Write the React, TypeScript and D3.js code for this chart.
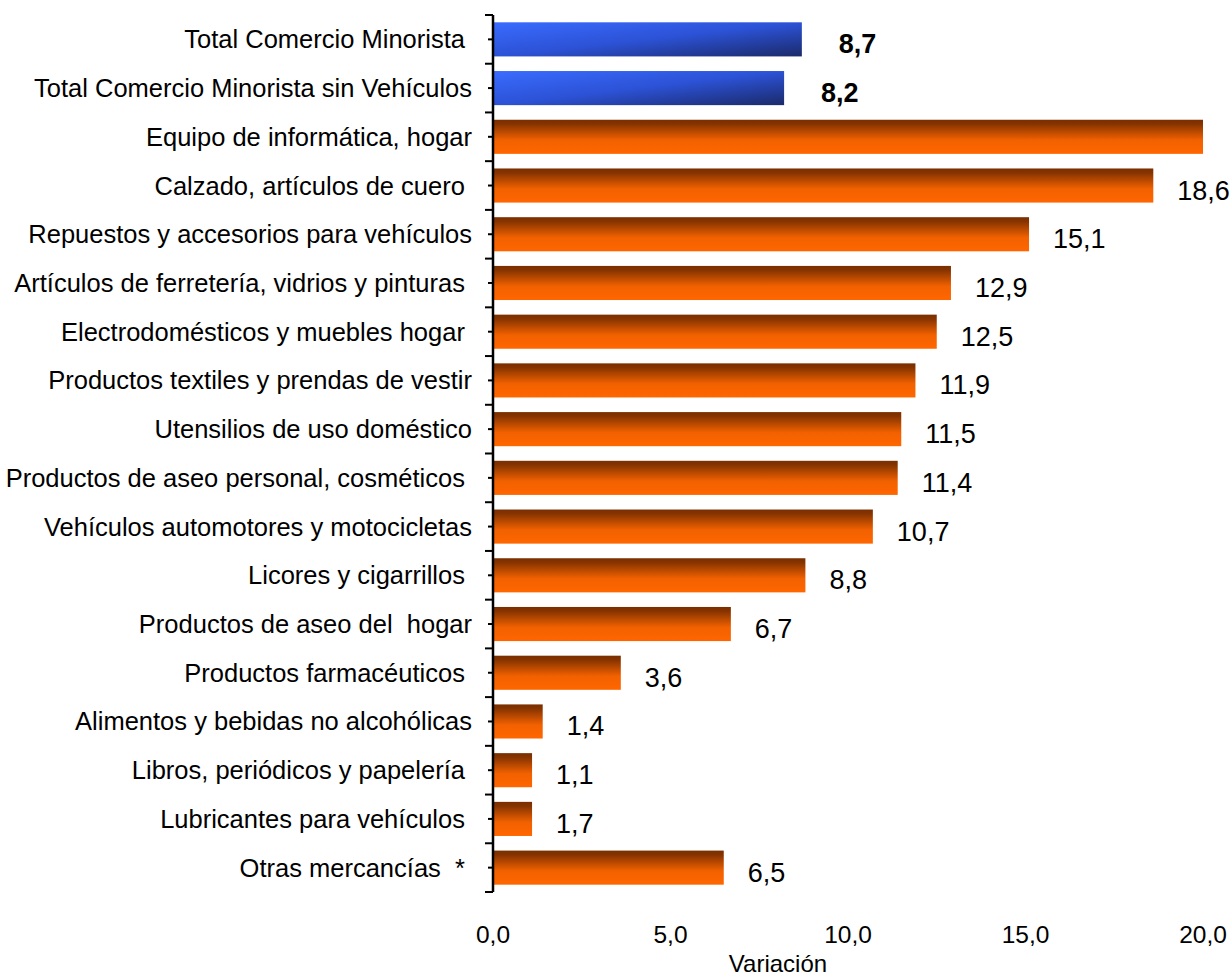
import React from "react";
import * as d3 from "d3";

const categories = [
  "Total Comercio Minorista ",
  "Total Comercio Minorista sin Vehículos",
  "Equipo de informática, hogar",
  "Calzado, artículos de cuero ",
  "Repuestos y accesorios para vehículos",
  "Artículos de ferretería, vidrios y pinturas ",
  "Electrodomésticos y muebles hogar ",
  "Productos textiles y prendas de vestir",
  "Utensilios de uso doméstico",
  "Productos de aseo personal, cosméticos ",
  "Vehículos automotores y motocicletas",
  "Licores y cigarrillos ",
  "Productos de aseo del  hogar",
  "Productos farmacéuticos ",
  "Alimentos y bebidas no alcohólicas",
  "Libros, periódicos y papelería ",
  "Lubricantes para vehículos ",
  "Otras mercancías  * ",
];

const values = [8.7, 8.2, 22.0, 18.6, 15.1, 12.9, 12.5, 11.9, 11.5, 11.4, 10.7, 8.8, 6.7, 3.6, 1.4, 1.1, 1.1, 6.5];
// label of the bar that runs past 20 lies outside the picture in the reference
const valueLabels = ["8,7", "8,2", "", "18,6", "15,1", "12,9", "12,5", "11,9", "11,5", "11,4", "10,7", "8,8", "6,7", "3,6", "1,4", "1,1", "1,7", "6,5"];
const totalFlags = [true, true, false, false, false, false, false, false, false, false, false, false, false, false, false, false, false, false];
const xTicks = [0, 5, 10, 15, 20];
const xTickLabels = ["0,0", "5,0", "10,0", "15,0", "20,0"];
const axisTitle = "Variación";

export default function App() {
  const W = 1232;
  const H = 978;
  const x = d3.scaleLinear().domain([0, 20]).range([493, 1203]);
  const y = d3
    .scaleBand<string>()
    .domain(categories)
    .range([15, 892])
    .paddingInner(0.3)
    .paddingOuter(0.15);
  const step = y.step();
  const font = "'Liberation Sans', Arial, sans-serif";

  return (
    <svg
      width={W}
      height={H}
      style={{ position: "absolute", left: 0, top: 0, background: "#fff" }}
      fontFamily={font}
    >
      <defs>
        <linearGradient id="gOrange" x1="0" y1="0" x2="0" y2="1">
          <stop offset="0" stopColor="#7a2e00" />
          <stop offset="0.12" stopColor="#853300" />
          <stop offset="0.6" stopColor="#f26100" />
          <stop offset="1" stopColor="#ff6600" />
        </linearGradient>
        <linearGradient id="gBlue" x1="0" y1="0" x2="1" y2="1">
          <stop offset="0" stopColor="#3a6cff" />
          <stop offset="0.5" stopColor="#2c52d6" />
          <stop offset="1" stopColor="#1b2a6a" />
        </linearGradient>
      </defs>

      {categories.map((c, i) => {
        const v = values[i];
        const by = y(c) as number;
        const bw = x(Math.min(v, 20)) - x(0);
        const cy = by + y.bandwidth() / 2;
        const isTotal = totalFlags[i];
        return (
          <g key={c}>
            <rect
              x={x(0)}
              y={by}
              width={bw}
              height={y.bandwidth()}
              fill={isTotal ? "url(#gBlue)" : "url(#gOrange)"}
            />
            {valueLabels[i] !== "" && (
              <text
                x={x(v) + (isTotal ? 37 : 24)}
                y={cy + 14}
                fontSize={27}
                fontWeight={isTotal ? "bold" : "normal"}
                fill="#000"
              >
                {valueLabels[i]}
              </text>
            )}
            <text x={472} y={cy + 9} fontSize={25.5} textAnchor="end" fill="#000" style={{ whiteSpace: "pre" }}>
              {c}
            </text>
          </g>
        );
      })}

      {/* Y axis line and ticks */}
      <line x1={x(0)} x2={x(0)} y1={15} y2={892} stroke="#000" strokeWidth={2.5} />
      {d3.range(categories.length + 1).map((i) => (
        <line
          key={"mt" + i}
          x1={x(0) - 8}
          x2={x(0)}
          y1={15 + i * step}
          y2={15 + i * step}
          stroke="#000"
          strokeWidth={2}
        />
      ))}
      {categories.map((c, i) => (
        <line
          key={"ct" + i}
          x1={x(0) - 5}
          x2={x(0)}
          y1={(y(c) as number) + y.bandwidth() / 2}
          y2={(y(c) as number) + y.bandwidth() / 2}
          stroke="#000"
          strokeWidth={2}
        />
      ))}

      {/* X tick labels */}
      {xTicks.map((t, i) => (
        <text key={"xt" + t} x={x(t)} y={943} fontSize={24.5} textAnchor="middle" fill="#000">
          {xTickLabels[i]}
        </text>
      ))}
      <text x={778} y={972} fontSize={24} textAnchor="middle" fill="#000">
        {axisTitle}
      </text>
    </svg>
  );
}
